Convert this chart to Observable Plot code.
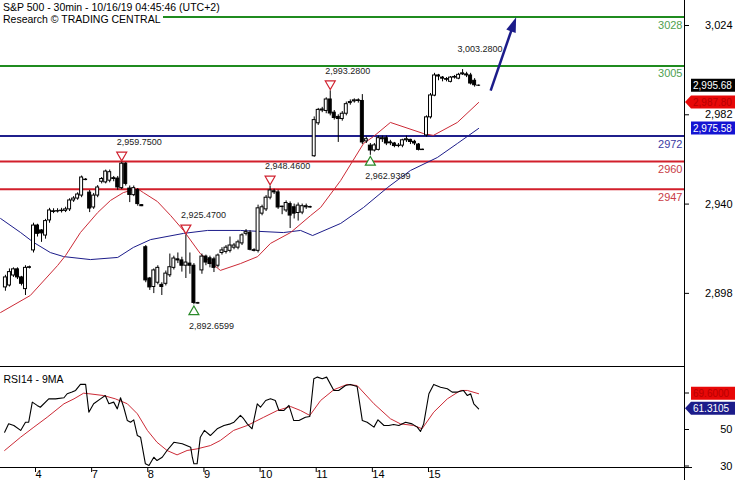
<!DOCTYPE html>
<html><head><meta charset="utf-8">
<script src="https://cdn.jsdelivr.net/npm/d3@7"></script>
<script src="https://cdn.jsdelivr.net/npm/@observablehq/plot@0.6"></script>
<style>
body{margin:0;background:#fff;}
#wrap{position:relative;width:735px;height:480px;overflow:hidden;font-family:"Liberation Sans",Arial,sans-serif;}
#wrap svg{display:block;}
.hdr{position:absolute;left:0;background:#fff;font-size:10.5px;line-height:12px;color:#000;white-space:nowrap;padding:0 2px 0 3px;}
</style></head><body>
<div id="wrap">
<div id="main"></div><div id="rsi"></div>
<div class="hdr" style="top:1px">S&amp;P 500 - 30min - 10/16/19 04:45:46 (UTC+2)</div>
<div class="hdr" style="top:13px">Research © TRADING CENTRAL</div>
</div>
<script>
// ---- candles: bar index 0..118 (Oct 3 partial, then 14 bars/day) ----
const open = [
 2900.8,2901.7,2906.4,2909.3,2905.5,2900.0,2910.0,
 2918.2,2929.9,2927.6,2925.2,2932.3,2936.6,2936.5,2936.7,2936.8,2937.5,2941.7,2942.6,2944.0,2951.5,
 2945.4,2938.4,2944.0,2950.5,2950.2,2951.0,2951.8,2952.0,2947.5,2959.0,2947.3,2944.2,2946.6,2939.5,
 2919.7,2905.0,2901.0,2903.0,2902.0,2902.5,2906.5,2910.0,2914.0,2913.5,2911.0,2912.0,2911.0,2893.4,
 2908.8,2915.3,2914.5,2914.0,2911.0,2917.0,2917.5,2918.0,2919.5,2919.5,2921.5,2926.0,2926.5,2918.3,
 2918.0,2935.5,2937.5,2943.0,2946.0,2945.5,2938.8,2937.0,2940.0,2938.5,2935.8,2936.0,2938.5,2938.6,
 2962.5,2978.0,2984.0,2983.8,2989.2,2983.0,2981.0,2980.0,2982.5,2987.5,2988.3,2988.8,2988.5,2969.5,
 2967.5,2965.2,2965.5,2970.5,2971.0,2969.0,2968.5,2967.5,2967.5,2970.0,2970.2,2969.3,2968.0,2965.6,
 2972.3,2980.8,2991.0,3000.5,2999.5,2998.8,2997.5,2999.5,2999.0,3001.0,3001.0,3000.5,2998.0,2995.7];
const high = [
 2906.5,2909.5,2910.0,2910.0,2906.0,2911.0,2910.8,
 2931.0,2930.5,2928.0,2932.8,2938.0,2937.8,2937.8,2938.0,2938.5,2942.5,2943.5,2945.3,2953.2,2952.0,
 2946.4,2945.0,2948.7,2952.5,2956.0,2956.0,2953.0,2953.0,2959.75,2959.5,2948.5,2948.5,2947.3,2939.8,
 2920.5,2905.5,2909.5,2911.0,2903.0,2908.5,2916.5,2915.5,2917.0,2915.0,2925.47,2917.0,2912.0,2893.8,
 2916.5,2916.0,2915.5,2915.0,2916.5,2919.5,2920.5,2924.5,2921.5,2923.0,2926.0,2928.0,2927.5,2919.0,
 2939.5,2939.5,2944.0,2948.46,2947.0,2946.5,2939.0,2941.5,2941.0,2940.0,2940.5,2940.0,2940.0,2939.0,
 2981.0,2985.0,2985.5,2990.0,2993.28,2984.0,2982.0,2983.5,2988.0,2989.0,2989.5,2989.5,2991.5,2971.5,
 2968.5,2968.5,2972.0,2972.0,2972.0,2970.0,2969.0,2968.5,2970.5,2972.0,2970.5,2970.0,2968.5,2965.8,
 2981.5,2992.0,3001.5,3001.0,3000.0,2999.5,3000.0,3000.5,3001.5,3003.28,3002.0,3001.5,2999.0,2996.0];
const low = [
 2899.0,2901.0,2905.5,2904.5,2901.5,2897.0,2909.5,
 2917.0,2924.5,2922.0,2923.5,2931.0,2935.5,2935.8,2935.8,2936.0,2936.5,2940.8,2941.8,2943.0,2951.0,
 2936.0,2937.5,2943.0,2949.5,2949.5,2950.0,2950.5,2946.5,2946.8,2948.5,2940.7,2943.5,2939.0,2938.8,
 2903.0,2899.4,2897.9,2902.0,2897.0,2901.5,2905.5,2909.0,2912.0,2908.0,2905.0,2907.0,2892.66,2892.9,
 2907.0,2911.0,2910.0,2907.8,2910.0,2916.0,2916.5,2917.0,2918.5,2918.5,2920.5,2925.0,2918.0,2917.5,
 2917.0,2934.5,2936.5,2942.0,2944.5,2937.5,2935.0,2936.0,2928.5,2933.0,2932.0,2935.0,2937.5,2938.0,
 2962.0,2977.0,2983.0,2982.5,2981.5,2979.5,2969.0,2979.0,2981.5,2986.5,2987.5,2987.5,2968.0,2968.5,
 2962.94,2964.5,2965.0,2969.0,2967.5,2967.5,2966.5,2966.5,2966.5,2969.0,2968.0,2967.5,2965.0,2965.2,
 2971.5,2980.0,2990.5,2998.0,2997.5,2997.5,2997.0,2998.8,2998.5,3000.5,2999.5,2996.0,2995.0,2995.3];
const close = [
 2905.5,2908.0,2909.3,2905.5,2902.5,2910.0,2910.3,
 2929.9,2926.0,2926.2,2932.0,2937.0,2936.3,2936.7,2936.9,2937.5,2941.7,2942.6,2944.5,2952.5,2951.3,
 2937.9,2944.0,2947.8,2951.8,2955.3,2955.0,2952.2,2947.8,2959.0,2949.5,2944.3,2947.5,2940.0,2939.0,
 2904.1,2900.8,2908.8,2910.0,2901.0,2907.3,2910.3,2914.4,2913.5,2911.0,2912.5,2911.0,2893.5,2893.2,
 2915.3,2912.5,2911.8,2910.0,2915.8,2918.2,2919.5,2920.5,2920.5,2922.0,2925.3,2926.8,2918.5,2918.0,
 2938.0,2938.5,2943.0,2946.4,2945.5,2938.4,2938.6,2940.5,2934.6,2935.5,2939.3,2939.0,2939.0,2938.4,
 2979.5,2984.3,2984.5,2989.2,2982.6,2980.5,2980.0,2982.5,2987.0,2988.0,2988.8,2988.5,2969.0,2970.5,
 2965.2,2967.6,2971.0,2971.0,2968.5,2968.6,2967.3,2967.3,2970.0,2970.5,2969.2,2968.5,2965.5,2965.4,
 2980.8,2991.1,3000.5,3000.0,2999.0,2998.5,2999.5,2999.8,3000.8,3001.5,3000.5,2996.7,2995.9,2995.68];

// ---- moving averages on price ----
const maRedIdx = [-1.2,6.2,13.0,15.0,18.7,23.0,26.2,29.4,32.9,34.4,37.9,41.2,44.4,48.6,53.6,58.6,62.9,66.1,71.1,76.1,78.6,83.6,89.3,91.8,96.0,104.2,106.7,112.7,118.0];
const maRedVal = [2889.0,2897.0,2911.1,2915.8,2926.6,2936.0,2941.7,2945.4,2947.3,2945.4,2941.2,2934.6,2927.6,2916.7,2908.8,2912.0,2915.3,2921.5,2926.6,2934.6,2938.4,2951.1,2968.5,2971.8,2978.4,2973.2,2972.3,2978.4,2987.8];
const maBlueIdx = [-1.2,3.8,7.0,11.2,14.5,21.2,28.0,31.9,36.2,44.4,50.4,58.6,69.3,73.6,76.6,83.6,89.3,95.3,101.0,107.7,112.7,118.0];
const maBlueVal = [2933.2,2926.6,2922.0,2917.2,2915.3,2913.9,2914.9,2919.6,2923.3,2926.2,2927.6,2927.6,2926.6,2927.6,2925.2,2930.9,2938.4,2947.8,2955.8,2961.9,2968.5,2975.58];

// ---- support / resistance levels ----
const levelVal = [3028, 3005, 2972, 2960, 2947];
const levelColor = ["#1f8b1f","#1f8b1f","#1f1f8c","#d21f2b","#d21f2b"];
const levelTextColor = ["#4f9f4f","#4f9f4f","#3b3ba3","#c93c46","#c93c46"];

// ---- swing annotations ----
const swingIdx = [29, 45, 47, 66, 81, 91, 114];
const swingVal = [2959.75, 2925.47, 2892.6599, 2948.46, 2993.28, 2962.9399, 3003.28];
const swingType = ["high","high","low","high","high","low","label"];

// ---- projection arrow ----
const arrowIdx = [121.0, 126.5];
const arrowVal = [2993.4, 3023.5];

// ---- RSI14 and its 9MA ----
const rsiIdx = [-0.2,0.8,2.1,3.8,5.0,5.8,6.7,7.9,8.7,10.8,12.5,14.6,15.4,16.6,17.5,18.7,20.0,20.8,22.0,23.7,24.9,25.8,27.0,27.9,28.7,29.5,30.4,31.2,32.0,32.9,33.7,34.9,35.8,37.0,37.8,39.1,40.3,42.0,44.1,46.2,46.6,47.0,47.8,48.6,49.6,51.1,52.8,54.5,56.1,57.0,58.6,59.4,60.3,61.5,62.8,63.6,64.9,66.1,67.3,68.2,69.4,70.7,71.9,73.2,74.8,75.9,76.9,77.8,79.0,80.1,81.9,83.1,84.8,86.0,87.7,89.0,90.2,91.9,92.9,94.4,95.6,96.8,98.1,99.8,101.4,102.7,103.5,104.3,105.6,106.8,108.5,110.2,111.4,112.7,114.2,115.2,116.0,116.8,118.0];
const rsiVal = [48.5,53.1,52.2,49.5,54.0,54.0,65.0,63.2,62.2,66.8,66.8,67.4,69.6,70.5,71.4,74.7,74.7,59.5,64.1,66.8,68.6,64.1,65.0,61.3,67.4,62.2,54.9,54.0,55.3,46.7,45.8,31.2,30.3,34.8,33.0,34.8,38.5,43.0,42.2,40.3,34.8,31.2,31.2,45.8,49.5,46.7,50.4,52.2,53.1,54.0,57.7,55.9,53.1,50.4,64.1,62.2,65.9,66.8,65.9,60.4,60.4,63.2,54.9,54.9,56.7,57.1,77.8,78.7,77.8,78.7,71.4,71.4,74.1,74.7,73.6,54.9,54.0,51.3,55.3,52.2,52.2,52.7,52.2,54.0,53.1,51.3,48.9,53.1,69.6,74.7,73.2,72.3,70.5,70.5,71.4,68.6,69.6,64.1,61.3105];
const rsiMaIdx = [-0.2,3.8,7.1,10.4,14.6,17.1,19.5,20.8,24.5,27.4,30.4,32.9,35.4,37.8,40.3,42.8,45.3,47.8,51.1,53.6,56.9,60.3,64.4,67.8,71.1,73.6,75.9,78.6,81.9,85.2,87.7,91.9,96.0,98.5,101.8,103.9,106.8,110.2,113.5,115.2,118.0];
const rsiMaVal = [38.5,45.8,51.3,56.7,64.1,66.8,69.9,69.6,68.6,66.8,64.1,58.6,49.5,43.0,38.5,36.1,38.5,39.4,41.2,44.0,49.5,52.2,56.7,60.4,62.6,60.4,57.7,65.9,71.8,74.7,74.1,64.1,55.9,53.1,52.2,50.4,59.5,66.8,71.4,71.4,69.6];

// ---- axes ----
const priceTicks = [2898, 2940, 2982, 3024];
const rsiTicks = [30, 50, 70];
const rsiTickLabels = ["30", "50", ""]; // 70 sits under the value box
const dayIdx = [7, 21, 35, 49, 63, 77, 91, 105];
const dayLabels = ["4","7","8","9","10","11","14","15"];
const rsiTitle = ["RSI14 - 9MA"];

const xDomain = [-1.23, 169.34];
const yDomain = [2863.6, 3035.76];
const rDomain = [29.18, 84.52];
const FONT = "Liberation Sans, Arial, sans-serif";

const bars = open.map((o, i) => ({i, o, h: high[i], l: low[i], c: close[i]}));
const upBars = bars.filter(d => d.c >= d.o);
const dnBars = bars.filter(d => d.c < d.o);
const levels = levelVal.map((v, k) => ({v, col: levelColor[k], tc: levelTextColor[k]}));
const maRed = maRedIdx.map((i, k) => ({i, v: maRedVal[k]}));
const maBlue = maBlueIdx.map((i, k) => ({i, v: maBlueVal[k]}));
const swings = swingIdx.map((i, k) => ({i, v: swingVal[k], t: swingType[k], s: d3.format(",.4f")(swingVal[k])}));
const highs = swings.filter(d => d.t === "high");
const lows = swings.filter(d => d.t === "low");
const topLabels = swings.filter(d => d.t !== "low");
const arrow = [{x1: arrowIdx[0], y1: arrowVal[0], x2: arrowIdx[1], y2: arrowVal[1]}];
const rsi = rsiIdx.map((i, k) => ({i, v: rsiVal[k]}));
const rsiMa = rsiMaIdx.map((i, k) => ({i, v: rsiMaVal[k]}));

const arrowHead = {draw(ctx) { ctx.moveTo(0, -10); ctx.lineTo(5, 5); ctx.lineTo(-5, 5); ctx.closePath(); }};

const main = Plot.plot({
  width: 735, height: 366,
  marginLeft: 0, marginRight: 51, marginTop: 0, marginBottom: 0,
  style: {fontFamily: FONT, fontSize: "11px", background: "white"},
  x: {domain: xDomain, axis: null},
  y: {domain: yDomain, axis: null},
  marks: [
    Plot.ruleY(levels, {y: "v", stroke: "col", strokeWidth: 2}),
    Plot.text(levels, {y: "v", text: d => String(d.v), frameAnchor: "right", textAnchor: "end", dx: -2, dy: 8, fill: "tc", fontSize: 11}),
    Plot.line(maBlue, {x: "i", y: "v", stroke: "#1c1c8a", strokeWidth: 1}),
    Plot.line(maRed, {x: "i", y: "v", stroke: "#cc2a36", strokeWidth: 1}),
    Plot.ruleX(bars, {x: "i", y1: "l", y2: "h", stroke: "#000", strokeWidth: 1}),
    Plot.rect(upBars, {x1: d => d.i - 0.37, x2: d => d.i + 0.37, y1: "o", y2: "c", fill: "#fff", stroke: "#000", strokeWidth: 1}),
    Plot.rect(dnBars, {x1: d => d.i - 0.37, x2: d => d.i + 0.37, y1: "o", y2: "c", fill: "#000", stroke: "#000", strokeWidth: 1}),
    Plot.dot(highs, {x: "i", y: "v", symbol: "triangle", rotate: 180, r: 3.7, stroke: "#d0202e", fill: "white", strokeWidth: 1.2, dy: -7}),
    Plot.dot(lows, {x: "i", y: "v", symbol: "triangle", r: 3.7, stroke: "#2a8a2a", fill: "white", strokeWidth: 1.2, dy: 7}),
    Plot.text(topLabels, {x: "i", y: "v", text: "s", dy: -20, dx: -5, textAnchor: "start", fontSize: 9, fill: "#222"}),
    Plot.text(lows, {x: "i", y: "v", text: "s", dy: 21, dx: -5, textAnchor: "start", fontSize: 9, fill: "#222"}),
    Plot.link(arrow, {x1: "x1", y1: "y1", x2: "x2", y2: "y2", stroke: "#1c1c8a", strokeWidth: 2.5}),
    Plot.dot(arrow, {x: "x2", y: "y2", symbol: arrowHead, rotate: 20, fill: "#1c1c8a", stroke: "none"}),
    Plot.axisY({anchor: "right", ticks: priceTicks, tickSize: 4, tickPadding: 44, textAnchor: "end", tickFormat: d3.format(","), fontSize: 11, label: null}),
    Plot.ruleX([xDomain[1]], {stroke: "#000"})
  ]
});

const rsiChart = Plot.plot({
  width: 735, height: 114,
  marginLeft: 0, marginRight: 51, marginTop: 0, marginBottom: 13,
  style: {fontFamily: FONT, fontSize: "11px", background: "white"},
  x: {domain: xDomain, axis: null},
  y: {domain: rDomain, axis: null},
  marks: [
    Plot.line(rsiMa, {x: "i", y: "v", stroke: "#cc2a36", strokeWidth: 1}),
    Plot.line(rsi, {x: "i", y: "v", stroke: "#000", strokeWidth: 1.1}),
    Plot.text(rsiTitle, {text: d => d, frameAnchor: "top-left", textAnchor: "start", dx: 3, dy: 9, fontSize: 10.5}),
    Plot.axisY({anchor: "right", ticks: rsiTicks, tickSize: 4, tickPadding: 44, textAnchor: "end", fontSize: 11, label: null,
      tickFormat: d => rsiTickLabels[rsiTicks.indexOf(d)]}),
    Plot.axisX({ticks: dayIdx, tickFormat: d => dayLabels[dayIdx.indexOf(d)], tickSize: 5, tickPadding: -2, textAnchor: "start", dx: 2, fontSize: 11, label: null}),
    Plot.ruleY([rDomain[1]], {stroke: "#000"}),
    Plot.ruleY([rDomain[0]], {stroke: "#000", insetRight: -8}),
    Plot.ruleX([xDomain[1]], {stroke: "#000", insetBottom: -14})
  ]
});

document.getElementById("main").appendChild(main);
document.getElementById("rsi").appendChild(rsiChart);

function addBox(svg, y, txt, fill, tcolor, pointer) {
  const g = d3.select(svg).append("g");
  const t = y - 6.5, b = y + 6.5;
  const d = pointer ? `M685,${y}L691,${t}L735,${t}L735,${b}L691,${b}Z` : `M691,${t}L735,${t}L735,${b}L691,${b}Z`;
  g.append("path").attr("d", d).attr("fill", fill);
  g.append("text").attr("x", 693).attr("y", y).attr("dy", "0.36em").attr("text-anchor", "start")
    .attr("fill", tcolor).attr("font-size", 10).attr("font-family", FONT).text(txt);
}
const ys = main.scale("y"), rs = rsiChart.scale("y");
const lastClose = close[close.length - 1];
const lastRed = maRedVal[maRedVal.length - 1];
const lastBlue = maBlueVal[maBlueVal.length - 1];
addBox(main, ys.apply(lastClose), d3.format(",.2f")(lastClose), "#000", "#fff", false);
addBox(main, ys.apply(lastRed), d3.format(",.2f")(lastRed), "#e80808", "#b80000", true);
addBox(main, ys.apply(lastBlue), d3.format(",.2f")(lastBlue), "#1414d2", "#fff", false);
const lastRsiMa = rsiMaVal[rsiMaVal.length - 1];
const lastRsi = rsiVal[rsiVal.length - 1];
addBox(rsiChart, rs.apply(lastRsiMa), d3.format(".4f")(lastRsiMa), "#e80808", "#b80000", false);
addBox(rsiChart, rs.apply(lastRsi), d3.format(".4f")(lastRsi), "#1c1c8a", "#fff", true);
</script>
</body></html>
